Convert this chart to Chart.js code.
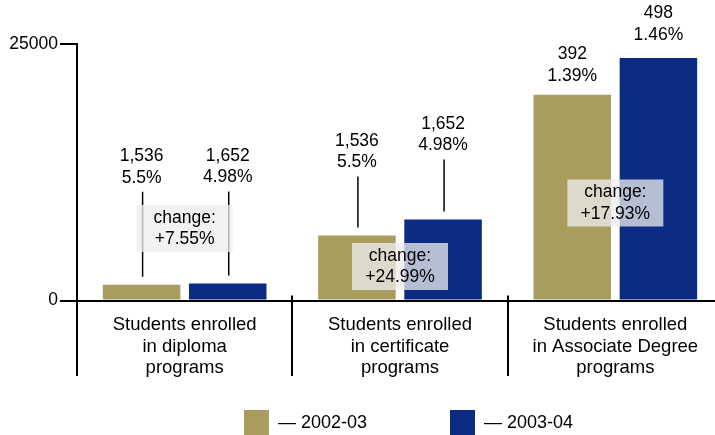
<!DOCTYPE html>
<html>
<head>
<meta charset="utf-8">
<title>Enrollment by program type</title>
<script src="https://cdn.jsdelivr.net/npm/chart.js@4/dist/chart.umd.min.js"></script>
<style>
  html, body { margin: 0; padding: 0; background: #fff; overflow: hidden; }
  #wrap { width: 715px; height: 435px; overflow: hidden; }
  canvas { display: block; }
</style>
</head>
<body>
<div id="wrap"><canvas id="chart" width="725" height="435"></canvas></div>
<script>
// ---- data ----
const categories = [
  ['Students enrolled', 'in diploma', 'programs'],
  ['Students enrolled', 'in certificate', 'programs'],
  ['Students enrolled', 'in Associate Degree', 'programs']
];
const seriesNames = ['2002-03', '2003-04'];
const enrolled0203 = [1536, 6325, 20050];
const enrolled0304 = [1652, 7906, 23645];
const countLabels0203 = ['1,536', '1,536', '392'];
const countLabels0304 = ['1,652', '1,652', '498'];
const shareLabels0203 = ['5.5%', '5.5%', '1.39%'];
const shareLabels0304 = ['4.98%', '4.98%', '1.46%'];
const changeLabels = ['+7.55%', '+24.99%', '+17.93%'];
const yTicks = [0, 25000];

// ---- styling / layout ----
const FONT = '"Liberation Sans", Arial, Helvetica, sans-serif';
const GOLD = '#a89d5f';
const NAVY = '#0b2c82';
const INK = '#000';
// distance (px) from a bar's top up to its second label line
const labelRise = [[107, 73, 19], [106, 74, 23]];
// distance (px) from the baseline up to the centre of each "change" box
const boxLift = [72, 34, 97.5];
const legendX = [244, 450];

const countLabels = [countLabels0203, countLabels0304];
const shareLabels = [shareLabels0203, shareLabels0304];

function line(ctx, x1, y1, x2, y2) {
  ctx.beginPath();
  ctx.moveTo(x1, y1);
  ctx.lineTo(x2, y2);
  ctx.stroke();
}

const callouts = {
  id: 'callouts',
  afterDraw(chart) {
    const { ctx, chartArea: a, scales: { x, y } } = chart;
    const base = y.getPixelForValue(0);
    const step = (a.right - a.left) / categories.length;
    ctx.save();

    // axis continues below the baseline, category separators
    ctx.strokeStyle = '#000';
    ctx.lineWidth = 2;
    line(ctx, a.left, a.bottom, a.left, 376);
    for (let i = 1; i < categories.length; i++) {
      const bx = Math.round(a.left + i * step);
      line(ctx, bx, base - 5, bx, 376);
    }

    // category names
    ctx.fillStyle = INK;
    ctx.font = '18.5px ' + FONT;
    ctx.textAlign = 'center';
    ctx.textBaseline = 'alphabetic';
    categories.forEach((rows, i) => {
      const cx = x.getPixelForValue(i);
      rows.forEach((t, k) => ctx.fillText(t, cx, 330 + k * 21.5));
    });

    // value / share labels with leader lines
    ctx.font = '17.5px ' + FONT;
    ctx.textBaseline = 'middle';
    ctx.lineWidth = 1.5;
    ctx.strokeStyle = INK;
    chart.data.datasets.forEach((ds, d) => {
      const meta = chart.getDatasetMeta(d);
      meta.data.forEach((bar, i) => {
        const rise = labelRise[d][i];
        const y2 = bar.y - rise;
        ctx.fillText(countLabels[d][i], bar.x, y2 - 21.5);
        ctx.fillText(shareLabels[d][i], bar.x, y2);
        if (rise > 40) line(ctx, bar.x + 1, y2 + 14, bar.x + 1, bar.y - 8);
      });
    });

    // change boxes
    changeLabels.forEach((t, i) => {
      const cx = x.getPixelForValue(i);
      const cy = base - boxLift[i];
      ctx.fillStyle = 'rgba(236,236,236,0.76)';
      ctx.fillRect(cx - 48, cy - 23.5, 96, 47);
      ctx.fillStyle = INK;
      ctx.fillText('change:', cx, cy - 10.5);
      ctx.fillText(t, cx, cy + 11);
    });

    // legend
    ctx.font = '18px ' + FONT;
    ctx.textAlign = 'left';
    chart.data.datasets.forEach((ds, d) => {
      const lx = legendX[d];
      ctx.fillStyle = ds.backgroundColor;
      ctx.fillRect(lx, 410, 25, 25);
      ctx.fillStyle = INK;
      ctx.fillText('\u2014 ' + ds.label, lx + 34, 423);
    });

    ctx.restore();
  }
};

new Chart(document.getElementById('chart'), {
  type: 'bar',
  data: {
    labels: categories,
    datasets: [
      { label: seriesNames[0], data: enrolled0203, backgroundColor: GOLD },
      { label: seriesNames[1], data: enrolled0304, backgroundColor: NAVY }
    ]
  },
  options: {
    responsive: false,
    animation: false,
    layout: { padding: { top: 44, bottom: 134.5, left: 0, right: 2 } },
    datasets: { bar: { categoryPercentage: 0.8, barPercentage: 0.9 } },
    plugins: { legend: { display: false }, tooltip: { enabled: false } },
    scales: {
      x: {
        ticks: { display: false },
        grid: { display: false },
        border: { display: true, color: '#000', width: 2 },
        afterFit(s) { s.height = 0; }
      },
      y: {
        min: 0,
        max: 25000,
        afterBuildTicks(s) { s.ticks = yTicks.map(v => ({ value: v })); },
        ticks: { color: INK, padding: 2, font: { family: FONT, size: 17.5 }, callback: v => String(v) },
        grid: { drawOnChartArea: false, drawTicks: true, tickLength: 17, color: '#000', lineWidth: 2 },
        border: { display: true, color: '#000', width: 2 },
        afterFit(s) { s.width = 77; }
      }
    }
  },
  plugins: [callouts]
});
</script>
</body>
</html>
